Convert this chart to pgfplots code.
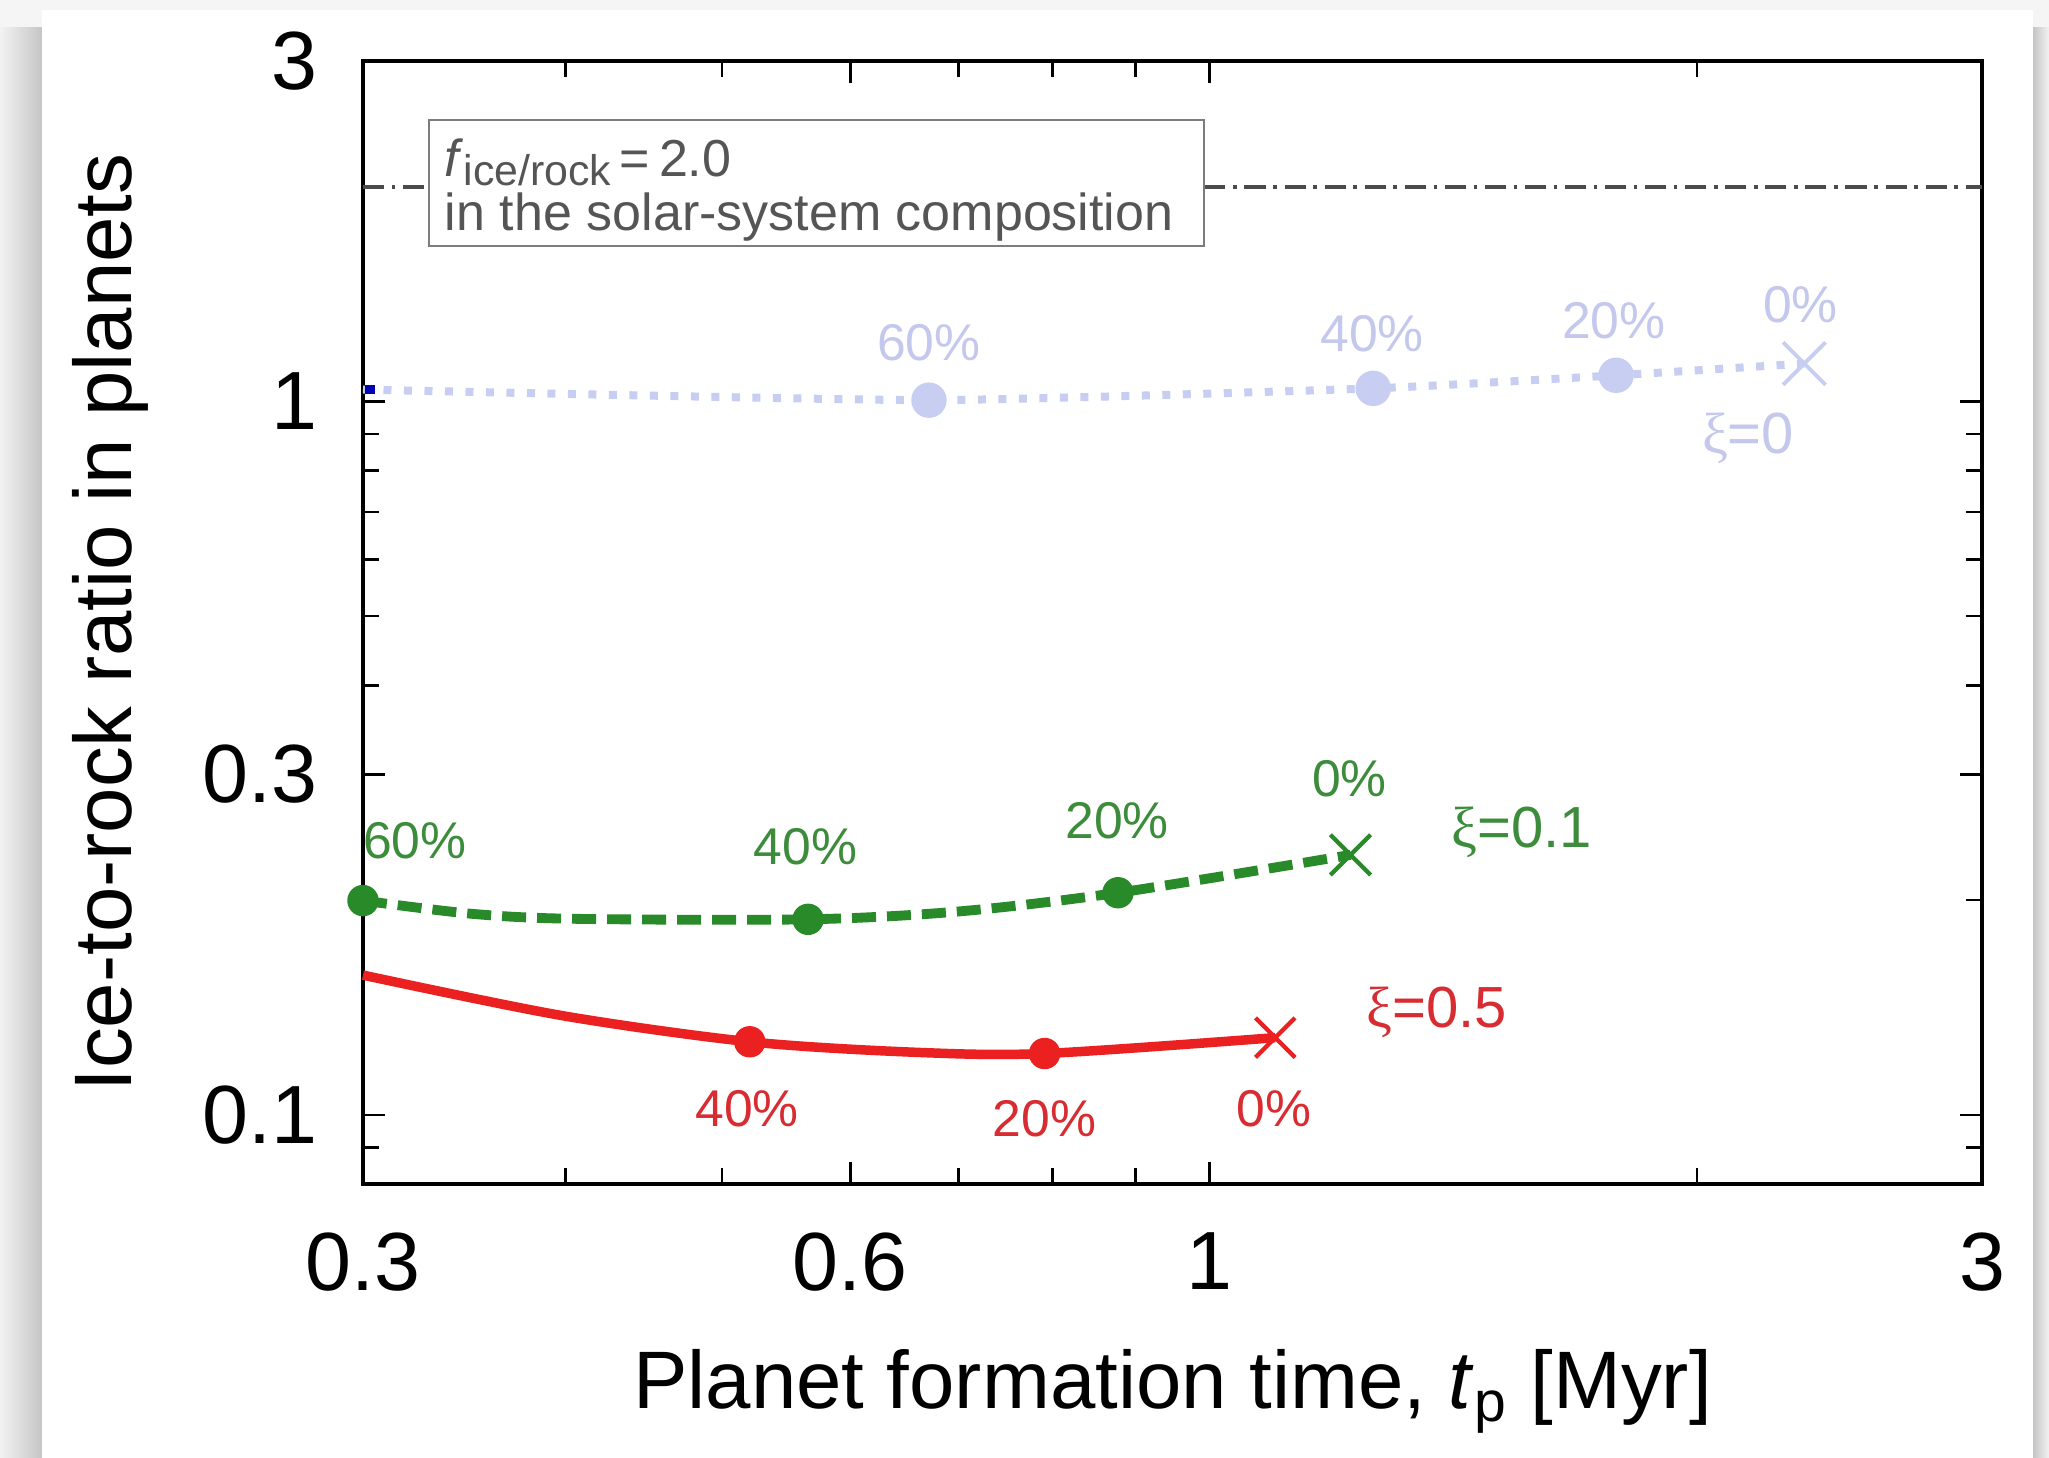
\documentclass[border=0pt]{standalone}
\usepackage{fontspec}
\setmainfont{Liberation Sans}
\newfontfamily\seriff{Liberation Serif}
\usepackage{pgfplots}
\pgfplotsset{compat=1.18}
\definecolor{cgreen}{RGB}{40,138,40}
\definecolor{cgreentxt}{RGB}{60,140,60}
\definecolor{cred}{RGB}{235,32,32}
\definecolor{credtxt}{RGB}{215,45,50}
\definecolor{cblue}{RGB}{200,206,242}
\definecolor{cbluetxt}{RGB}{196,200,236}
\definecolor{cdash}{RGB}{75,75,75}
\definecolor{cbox}{RGB}{125,125,125}
\definecolor{cboxtxt}{RGB}{85,85,85}
\begin{document}
\begin{tikzpicture}
\useasboundingbox (0,0) rectangle (204.9mm,145.8mm);
\fill[gray!8] (0,0) rectangle (204.9mm,145.8mm);
\shade[left color=gray!10, right color=gray!45] (0,0) rectangle (4.2mm,143mm);
\shade[left color=gray!45, right color=gray!10] (203.3mm,0) rectangle (204.9mm,143mm);
\fill[white] (4.2mm,0) rectangle (203.3mm,144.8mm);
\begin{axis}[
  at={(36.3mm,27.4mm)}, anchor=south west,
  scale only axis, width=161.9mm, height=112.3mm,
  xmode=log, ymode=log,
  xmin=0.3, xmax=3, ymin=0.08, ymax=3,
  xtick={0.3,0.6,1,3}, xticklabels={0.3,0.6,1,3},
  minor xtick={0.4,0.5,0.7,0.8,0.9,2},
  ytick={0.1,0.3,1,3}, yticklabels={0.1,0.3,1,3},
  minor ytick={0.09,0.2,0.4,0.5,0.6,0.7,0.8,0.9,2},
  tick align=inside,
  major tick length=2.2mm, minor tick length=1.6mm,
  tick style={black, line width=0.7pt},
  axis line style={black, line width=1.2pt},
  ticklabel style={font=\fontsize{23.5}{27}\selectfont},
  /pgf/number format/assume math mode=true,
  xticklabel style={yshift=-3.6mm},
  yticklabel style={xshift=-3.3mm},
  xlabel={Planet formation time, \textit{t}\textsubscript{p} [Myr]},
  ylabel={Ice-to-rock ratio in planets},
  label style={font=\fontsize{23.2}{27}\selectfont},
  xlabel style={at={(axis description cs:0.5,-0.2)}, anchor=base},
  ylabel style={at={(axis description cs:-0.1427,0.5)}, anchor=base},
  clip=false,
]
% reference line f = 2.0
\addplot[cdash, line width=1.1pt, dash pattern=on 6pt off 2.2pt on 1pt off 2.2pt] coordinates {(0.3,2) (3,2)};
\draw[cbox, line width=0.6pt, fill=white] (rel axis cs:0.0405,0.8352) rectangle (rel axis cs:0.5192,0.9471);
\node[anchor=base west, inner sep=0, text=cboxtxt, font=\fontsize{14.8}{17}\selectfont] at (rel axis cs:0.05,0.8975) {\textit{f}\raisebox{-2.6pt}{\fontsize{12.2}{14}\selectfont ice/rock}\,=\,2.0};
\node[anchor=base west, inner sep=0, text=cboxtxt, font=\fontsize{14.8}{17}\selectfont] at (rel axis cs:0.0502,0.8491) {in the solar-system composition};

% xi = 0 (blue, dotted)
\addplot[cblue, line width=0.8mm, dash pattern=on 0.8mm off 1.25mm, smooth, tension=0.3] coordinates {
 (0.3,1.039) (0.671,1.004) (1.262,1.043) (1.783,1.088) (2.33,1.130)};
\addplot[only marks, mark=*, mark size=1.7mm, cblue] coordinates {(0.671,1.004) (1.262,1.043) (1.783,1.088)};
\addplot[only marks, mark=x, mark size=3mm, cblue, mark options={line width=1.1pt}] coordinates {(2.33,1.130)};
\addplot[only marks, mark=square*, mark size=0.4mm, blue!70!black] coordinates {(0.303,1.039)};

% xi = 0.1 (green, dashed)
\addplot[cgreen, line width=2.8pt, dash pattern=on 2.4mm off 1.1mm, smooth, tension=0.5] coordinates {
 (0.3,0.1997) (0.35,0.1914) (0.405,0.1883) (0.565,0.188) (0.70,0.1928) (0.878,0.2048) (1.222,0.2314)};
\addplot[only marks, mark=*, mark size=1.5mm, cgreen] coordinates {(0.3,0.1997) (0.565,0.188) (0.878,0.2048)};
\addplot[only marks, mark=x, mark size=2.85mm, cgreen, mark options={line width=1.2pt}] coordinates {(1.222,0.2314)};

% xi = 0.5 (red, solid)
\addplot[cred, line width=2.7pt, smooth, tension=0.5] coordinates {
 (0.3,0.157) (0.398,0.1378) (0.520,0.1266) (0.657,0.1224) (0.791,0.1219) (1.098,0.1283)};
\addplot[only marks, mark=*, mark size=1.5mm, cred] coordinates {(0.520,0.1266) (0.791,0.1219)};
\addplot[only marks, mark=x, mark size=2.8mm, cred, mark options={line width=1.2pt}] coordinates {(1.098,0.1283)};

% labels
\begin{scope}[every node/.style={font=\fontsize{14.7}{17}\selectfont, inner sep=0}]
\node[text=cbluetxt] at (axis cs:0.671,1.209) {60\%};
\node[text=cbluetxt] at (axis cs:1.260,1.245) {40\%};
\node[text=cbluetxt] at (axis cs:1.777,1.299) {20\%};
\node[text=cbluetxt] at (axis cs:2.317,1.366) {0\%};
\node[text=cgreentxt] at (axis cs:0.323,0.2424) {60\%};
\node[text=cgreentxt] at (axis cs:0.563,0.2374) {40\%};
\node[text=cgreentxt] at (axis cs:0.877,0.2583) {20\%};
\node[text=cgreentxt] at (axis cs:1.220,0.2955) {0\%};
\node[text=credtxt] at (axis cs:0.518,0.1021) {40\%};
\node[text=credtxt] at (axis cs:0.791,0.0987) {20\%};
\node[text=credtxt] at (axis cs:1.096,0.1021) {0\%};
\end{scope}
\begin{scope}[every node/.style={font=\fontsize{16.5}{19}\selectfont, inner sep=0}]
\node[text=cbluetxt] at (axis cs:2.151,0.889) {{\seriff ξ}=0};
\node[text=cgreentxt] at (axis cs:1.559,0.2487) {{\seriff ξ}=0.1};
\node[text=credtxt] at (axis cs:1.382,0.139) {{\seriff ξ}=0.5};
\end{scope}
\end{axis}
\end{tikzpicture}
\end{document}
